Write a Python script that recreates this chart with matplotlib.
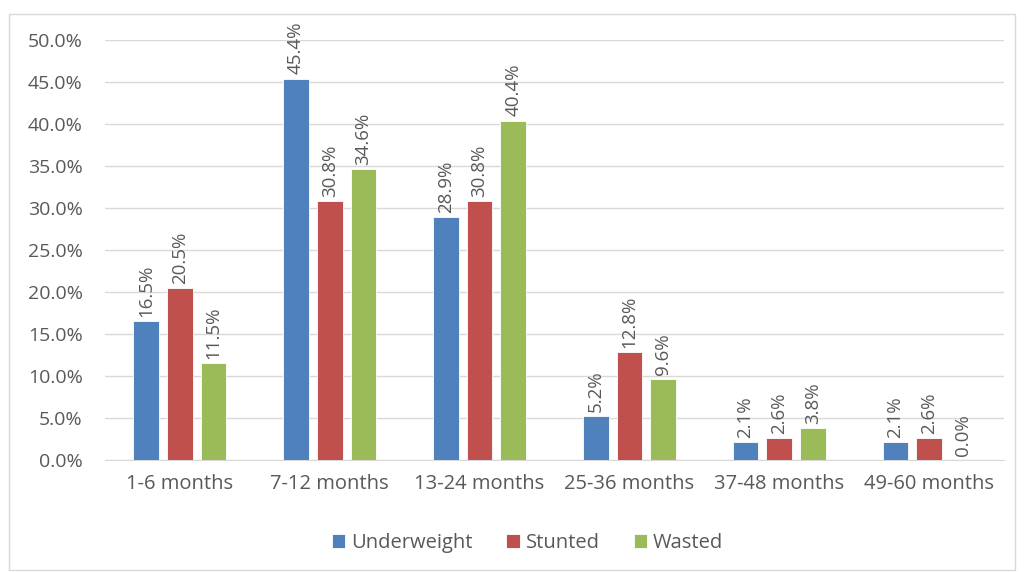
import numpy as np
import matplotlib.pyplot as plt
from matplotlib.patches import Rectangle

plt.rcParams['font.family'] = ['Open Sans', 'DejaVu Sans']

categories = ['1-6 months', '7-12 months', '13-24 months', '25-36 months', '37-48 months', '49-60 months']
underweight = [16.5, 45.4, 28.9, 5.2, 2.1, 2.1]
stunted = [20.5, 30.8, 30.8, 12.8, 2.6, 2.6]
wasted = [11.5, 34.6, 40.4, 9.6, 3.8, 0.0]
series = ['Underweight', 'Stunted', 'Wasted']
colors = ['#4f81bd', '#c0504d', '#9bbb59']

fig = plt.figure(figsize=(10.24, 5.72), dpi=100)
ax = fig.add_axes([0.1025, 0.196, 0.878, 0.734])
fig.patches.append(Rectangle((9 / 1024, 2 / 572), 1006 / 1024, 556 / 572, transform=fig.transFigure,
                             fill=False, edgecolor='#d9d9d9', linewidth=1))

txt = '#595959'
x = np.arange(len(categories))
w = 0.172
off = 0.225
for i, (vals, name, c) in enumerate(zip([underweight, stunted, wasted], series, colors)):
    pos = x + (i - 1) * off
    ax.bar(pos, vals, w, color=c, edgecolor='white', linewidth=0.6, label=name, zorder=3)
    for p, v in zip(pos, vals):
        ax.annotate(f'{v:.1f}%', (p, v), xytext=(0, 3), textcoords='offset points',
                    rotation=90, ha='center', va='bottom', fontsize=13.5, color=txt)

ax.set_xlim(-0.5, len(categories) - 0.5)
ax.set_ylim(0, 50)
ax.set_yticks(np.arange(0, 51, 5))
ax.set_yticklabels([f'{t:.1f}%' for t in np.arange(0, 51, 5)])
ax.set_xticks(x)
ax.set_xticklabels(categories)
ax.tick_params(axis='both', length=0, labelsize=14, colors=txt)
ax.tick_params(axis='x', labelsize=14.5, pad=10)
ax.tick_params(axis='y', pad=16)
ax.grid(axis='y', color='#d9d9d9', linewidth=1, zorder=0)
for s in ['top', 'right', 'left']:
    ax.spines[s].set_visible(False)
ax.spines['bottom'].set_color('#d9d9d9')

ax.legend(loc='center', bbox_to_anchor=(0.515, (572 - 543) / 572), bbox_transform=fig.transFigure,
          ncol=3, frameon=False, fontsize=14.5, labelcolor=txt, handlelength=0.65, handleheight=0.65,
          handletextpad=0.3, columnspacing=1.7)

fig.savefig('out.png', dpi=100)
